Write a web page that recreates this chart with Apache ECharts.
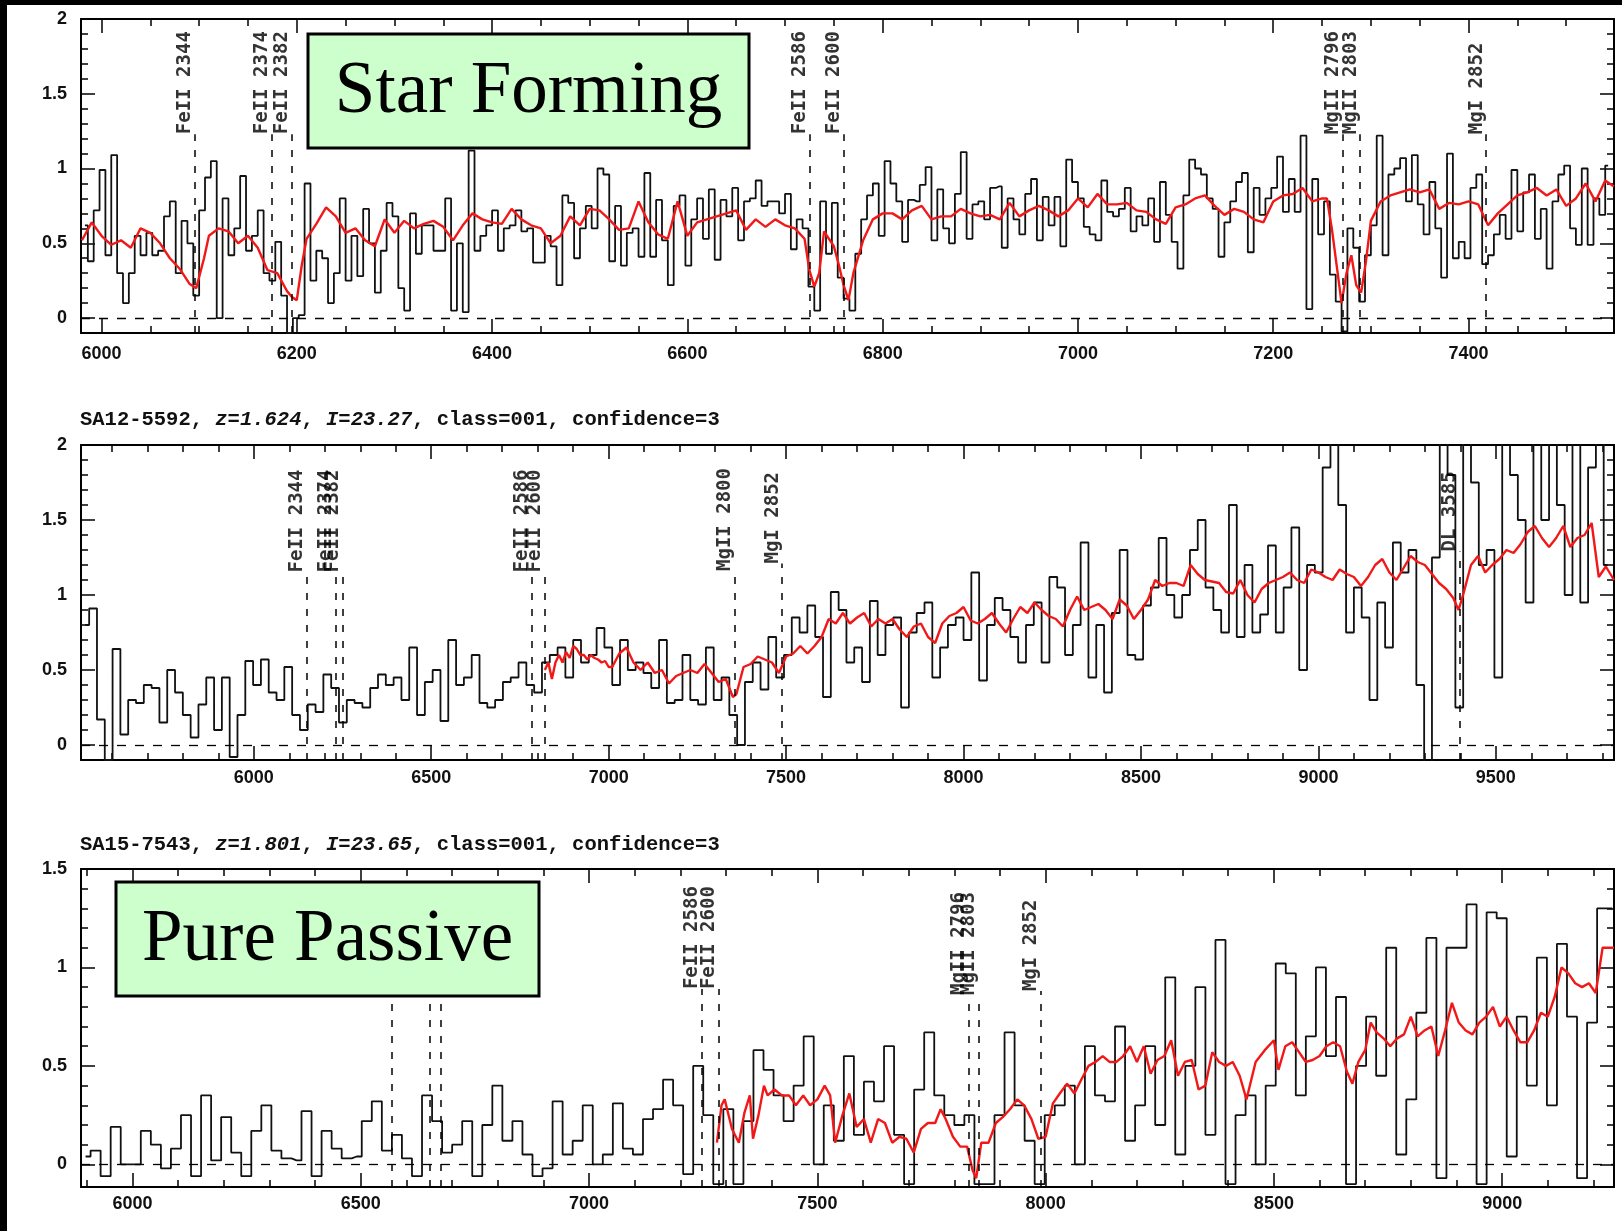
<!DOCTYPE html>
<html><head><meta charset="utf-8">
<script src="https://cdn.jsdelivr.net/npm/echarts@6/dist/echarts.min.js"></script>
<style>html,body{margin:0;padding:0;background:#fff}#c{width:1622px;height:1231px}</style>
</head><body><div id="c"></div>
<script>
// ---------------- DATA ----------------
// Top panel (Star Forming), observed spectrum binned: first bin centre and bin width (Angstrom)
const topBinStart = 5983, topBinWidth = 6;
const topFlux = [
 0.62,0.38,0.72,0.99,0.42,1.09,0.30,0.10,0.30,0.55,0.42,0.57,0.42,0.45,0.68,0.78,0.30,
 0.65,0.50,0.15,0.72,0.94,1.05,0.00,0.80,0.42,0.60,0.95,0.45,0.55,0.72,0.30,0.25,0.51,
 0.15,-0.10,0.00,0.02,0.90,0.25,0.45,0.40,0.10,0.30,0.80,0.25,0.55,0.28,0.73,0.50,0.17,
 0.45,0.77,0.68,0.20,0.05,0.70,0.43,0.62,0.62,0.45,0.45,0.80,0.05,0.50,0.04,1.12,0.45,
 0.55,0.62,0.72,0.45,0.60,0.62,0.72,0.58,0.60,0.37,0.37,0.55,0.48,0.22,0.82,0.77,0.40,
 0.60,0.75,0.60,1.00,0.96,0.38,0.75,0.35,0.57,0.60,0.41,0.97,0.41,0.79,0.52,0.22,0.75,
 0.82,0.35,0.66,0.80,0.53,0.86,0.39,0.79,0.68,0.87,0.52,0.78,0.80,0.92,0.75,0.78,0.78,
 0.70,0.83,0.46,0.66,0.60,0.21,0.05,0.78,0.43,0.77,0.27,0.13,0.05,0.43,0.66,0.82,0.90,
 0.55,1.05,0.90,0.78,0.51,0.79,0.78,0.89,1.01,0.52,0.86,0.60,0.50,0.83,1.11,0.53,0.76,
 0.78,0.66,0.87,0.88,0.47,0.80,0.66,0.56,0.83,0.93,0.52,0.81,0.62,0.81,0.48,1.06,0.91,
 0.80,0.61,0.56,0.52,0.92,0.71,0.68,0.73,0.87,0.58,0.68,0.62,0.80,0.51,0.91,0.69,0.51,
 0.33,0.82,1.06,1.00,0.96,0.80,0.73,0.41,0.64,0.78,0.91,0.97,0.44,0.87,0.69,0.80,0.87,
 1.08,0.71,0.93,0.71,1.22,0.06,0.93,0.56,0.78,0.29,0.11,-0.09,0.60,0.47,0.11,0.42,0.62,
 1.22,0.42,0.96,1.00,1.07,0.78,1.09,0.76,0.56,0.91,0.60,0.27,1.10,0.40,0.51,0.40,0.87,
 0.96,0.36,0.42,0.56,0.69,0.53,0.99,0.58,0.84,0.96,0.53,0.73,0.33,0.78,0.96,1.02,0.60,
 0.49,1.00,0.49,0.80,0.69,1.02
];
// Top panel template (red): [wavelength, flux]
const topModel = [
 [5980,0.52],[5990,0.64],[6000,0.55],[6010,0.49],[6020,0.52],[6030,0.47],[6040,0.60],[6050,0.57],[6060,0.50],[6070,0.40],
 [6080,0.33],[6090,0.23],[6097,0.20],[6105,0.40],[6110,0.55],[6120,0.60],[6130,0.58],[6140,0.50],[6150,0.55],[6160,0.47],
 [6170,0.32],[6180,0.30],[6190,0.18],[6195,0.14],[6200,0.12],[6205,0.35],[6210,0.53],[6220,0.63],[6230,0.74],[6240,0.68],
 [6250,0.57],[6260,0.60],[6270,0.52],[6280,0.48],[6290,0.66],[6300,0.57],[6310,0.65],[6320,0.60],[6330,0.63],[6340,0.65],
 [6350,0.61],[6360,0.52],[6370,0.62],[6380,0.70],[6390,0.66],[6400,0.64],[6410,0.63],[6420,0.73],[6430,0.66],[6440,0.62],
 [6450,0.60],[6460,0.50],[6470,0.55],[6480,0.68],[6490,0.62],[6500,0.73],[6510,0.72],[6520,0.66],[6530,0.59],[6540,0.60],
 [6550,0.78],[6560,0.64],[6570,0.56],[6580,0.53],[6590,0.78],[6600,0.55],[6610,0.64],[6620,0.66],[6630,0.68],[6640,0.70],
 [6650,0.72],[6660,0.59],[6670,0.66],[6680,0.61],[6690,0.66],[6700,0.62],[6710,0.60],[6720,0.53],[6725,0.32],[6730,0.21],
 [6735,0.30],[6740,0.58],[6750,0.48],[6755,0.36],[6760,0.22],[6765,0.12],[6770,0.30],[6780,0.52],[6790,0.66],[6800,0.70],
 [6810,0.70],[6820,0.66],[6830,0.72],[6840,0.75],[6850,0.66],[6860,0.68],[6870,0.68],[6880,0.73],[6890,0.70],[6900,0.68],
 [6910,0.69],[6920,0.66],[6930,0.77],[6940,0.68],[6950,0.72],[6960,0.75],[6970,0.72],[6980,0.68],[6990,0.72],[7000,0.80],
 [7010,0.74],[7020,0.83],[7030,0.76],[7040,0.76],[7050,0.77],[7060,0.72],[7070,0.71],[7080,0.66],[7090,0.63],[7100,0.74],
 [7110,0.76],[7120,0.80],[7130,0.82],[7140,0.75],[7150,0.69],[7160,0.73],[7170,0.71],[7180,0.66],[7190,0.64],[7200,0.78],
 [7210,0.82],[7220,0.83],[7230,0.87],[7240,0.78],[7250,0.80],[7255,0.80],[7260,0.60],[7265,0.35],[7270,0.10],[7275,0.30],
 [7280,0.42],[7285,0.22],[7290,0.17],[7295,0.38],[7300,0.65],[7310,0.78],[7320,0.82],[7330,0.84],[7340,0.86],[7350,0.84],
 [7360,0.86],[7370,0.73],[7380,0.77],[7390,0.76],[7400,0.78],[7410,0.76],[7420,0.62],[7430,0.70],[7440,0.76],[7450,0.82],
 [7460,0.84],[7470,0.87],[7480,0.82],[7490,0.86],[7500,0.75],[7510,0.80],[7520,0.90],[7530,0.78],[7540,0.92],[7549,0.88]
];
const topLines = [
 {name:'FeII 2344', wave:6095},{name:'FeII 2374', wave:6174},{name:'FeII 2382', wave:6195},
 {name:'FeII 2586', wave:6725},{name:'FeII 2600', wave:6760},{name:'MgII 2796', wave:7271},
 {name:'MgII 2803', wave:7289},{name:'MgI 2852', wave:7418}
];
const topLabelBase = [1.23,1.23,1.23,1.23,1.23,1.23,1.23,1.23];

// Middle panel: SA12-5592
const midTitle = {id:'SA12-5592', z:'1.624', I:'23.27', cls:'001', conf:'3'};
const midBinStart = 5525, midBinWidth = 22;
const midFlux = [
 0.80,0.91,0.17,-0.10,0.64,0.07,0.30,0.28,0.40,0.38,
 0.15,0.50,0.35,0.20,0.05,0.27,0.45,0.10,0.45,-0.08,
 0.20,0.56,0.40,0.57,0.35,0.30,0.52,0.20,0.10,0.27,
 0.22,0.47,0.38,0.15,0.30,0.28,0.25,0.38,0.47,0.40,
 0.45,0.30,0.65,0.20,0.42,0.50,0.16,0.70,0.40,0.45,
 0.60,0.28,0.25,0.30,0.42,0.45,0.55,0.40,0.35,0.55,
 0.60,0.65,0.45,0.70,0.55,0.60,0.78,0.65,0.40,0.70,
 0.50,0.55,0.48,0.38,0.70,0.28,0.30,0.60,0.30,0.27,
 0.65,0.30,0.45,0.20,0.00,0.42,0.55,0.37,0.72,0.45,
 0.60,0.85,0.75,0.93,0.72,0.32,1.02,0.90,0.55,0.65,
 0.42,0.96,0.60,0.80,0.85,0.25,0.75,0.88,0.95,0.45,
 0.65,0.80,0.85,0.70,1.15,0.43,0.80,0.98,0.90,0.72,
 0.55,0.80,0.95,0.55,1.12,1.05,0.60,0.80,1.35,0.45,
 0.80,0.35,0.88,1.30,0.60,0.57,0.93,1.05,1.38,1.00,
 0.85,1.00,1.30,1.50,1.05,0.90,0.75,1.60,0.72,1.20,
 0.75,0.87,1.33,0.75,1.05,1.45,0.50,1.20,1.15,1.85,
 2.20,1.60,0.75,1.05,0.85,0.30,0.95,0.65,1.35,1.15,
 1.30,0.40,-0.12,1.25,2.20,1.80,0.25,2.20,1.75,1.20,
 1.30,0.45,2.20,1.80,1.50,0.95,2.20,1.50,2.20,1.60,
 1.00,2.20,0.95,1.85,2.20,1.20
];
const midModel = [
 [6820,0.50],[6830,0.55],[6840,0.44],[6850,0.55],[6860,0.60],[6870,0.55],[6880,0.62],[6890,0.58],[6900,0.66],[6910,0.64],
 [6920,0.60],[6930,0.60],[6940,0.57],[6950,0.60],[6960,0.58],[6970,0.57],[6980,0.55],[6990,0.56],[7000,0.52],[7010,0.52],
 [7030,0.61],[7050,0.65],[7070,0.55],[7090,0.50],[7110,0.55],[7130,0.48],[7150,0.50],[7170,0.41],[7190,0.46],[7210,0.48],
 [7230,0.50],[7250,0.48],[7270,0.54],[7290,0.48],[7310,0.42],[7330,0.44],[7350,0.32],[7360,0.34],[7380,0.52],[7400,0.54],
 [7420,0.59],[7440,0.57],[7460,0.55],[7480,0.48],[7500,0.59],[7520,0.61],[7540,0.66],[7560,0.61],[7580,0.66],[7600,0.72],
 [7620,0.84],[7640,0.81],[7660,0.88],[7680,0.81],[7700,0.85],[7720,0.88],[7740,0.79],[7760,0.84],[7780,0.81],[7800,0.84],
 [7820,0.77],[7840,0.72],[7860,0.79],[7880,0.81],[7900,0.72],[7920,0.68],[7940,0.81],[7960,0.86],[7980,0.88],[8000,0.92],
 [8020,0.83],[8040,0.81],[8060,0.84],[8080,0.88],[8100,0.81],[8120,0.75],[8140,0.84],[8160,0.92],[8180,0.88],[8200,0.95],
 [8220,0.90],[8240,0.86],[8260,0.84],[8280,0.79],[8300,0.90],[8320,0.99],[8340,0.90],[8360,0.92],[8380,0.94],[8400,0.90],
 [8420,0.84],[8440,0.97],[8460,0.93],[8480,0.84],[8500,0.90],[8520,0.97],[8540,1.10],[8560,1.06],[8580,1.08],[8600,1.08],
 [8620,1.06],[8640,1.20],[8660,1.14],[8680,1.10],[8700,1.09],[8720,1.08],[8740,1.02],[8760,1.01],[8780,1.10],[8800,1.00],
 [8820,0.95],[8840,1.04],[8860,1.08],[8880,1.10],[8900,1.12],[8920,1.15],[8940,1.10],[8960,1.08],[8980,1.17],[9000,1.15],
 [9020,1.12],[9040,1.10],[9060,1.17],[9080,1.14],[9100,1.12],[9120,1.06],[9140,1.12],[9160,1.20],[9180,1.24],[9200,1.15],
 [9220,1.10],[9240,1.18],[9260,1.26],[9280,1.22],[9300,1.20],[9320,1.14],[9340,1.08],[9360,1.04],[9380,0.98],[9395,0.90],
 [9410,1.02],[9430,1.20],[9450,1.26],[9470,1.15],[9490,1.20],[9510,1.24],[9530,1.30],[9550,1.28],[9570,1.34],[9590,1.42],
 [9610,1.46],[9630,1.38],[9650,1.32],[9670,1.38],[9690,1.46],[9710,1.32],[9730,1.38],[9750,1.40],[9770,1.48],[9790,1.12],
 [9810,1.19],[9833,1.10]
];
const midLines = [
 {name:'FeII 2344', wave:6149},{name:'FeII 2374', wave:6230},{name:'FeII 2382', wave:6251},
 {name:'FeII 2586', wave:6782},{name:'FeII 2600', wave:6820},{name:'MgII 2800', wave:7356},
 {name:'MgI 2852', wave:7489},{name:'DL 3585', wave:9397}
];
const midLabelBase = [1.15,1.15,1.15,1.15,1.15,1.16,1.21,1.29];

// Bottom panel: SA15-7543
const botTitle = {id:'SA15-7543', z:'1.801', I:'23.65', cls:'001', conf:'3'};
const botBinStart = 5897, botBinWidth = 22;
const botFlux = [
 0.04,0.07,-0.06,0.19,0.00,0.00,0.17,0.10,-0.02,0.08,
 0.25,-0.06,0.35,0.02,0.24,0.06,-0.06,0.17,0.30,0.07,
 0.03,0.02,0.27,-0.06,0.17,0.08,0.03,0.04,0.22,0.32,
 0.07,0.15,0.03,-0.06,0.35,0.22,0.06,0.10,0.22,-0.06,
 0.20,0.40,0.12,0.22,0.05,-0.06,-0.02,0.32,0.05,0.12,
 0.30,0.00,0.05,0.31,0.08,0.05,0.23,0.28,0.43,0.30,
 -0.05,0.50,0.25,-0.10,0.28,-0.10,0.22,0.58,0.48,0.35,
 0.22,0.40,0.65,0.00,0.30,0.12,0.55,0.15,0.42,0.32,
 0.60,0.15,-0.10,0.38,0.67,0.35,0.25,0.20,0.25,-0.10,
 -0.10,0.25,0.67,0.30,0.12,-0.10,0.25,0.30,0.40,0.00,
 0.60,0.35,0.32,0.70,0.12,0.30,0.60,0.20,0.95,0.05,
 0.50,0.90,0.15,1.14,-0.10,0.25,0.35,0.00,0.40,1.02,
 0.97,0.35,0.65,1.00,0.55,0.85,-0.10,0.50,0.75,0.45,
 1.10,0.05,0.33,0.77,1.15,-0.07,1.10,1.10,1.32,-0.10,
 1.28,1.25,0.04,0.75,0.40,1.05,0.30,1.12,0.75,-0.07,
 0.72,1.30,1.30
];
const botModel = [
 [7280,0.11],[7290,0.30],[7297,0.33],[7313,0.18],[7328,0.11],[7340,0.26],[7352,0.35],[7359,0.13],[7371,0.25],[7383,0.40],
 [7391,0.35],[7406,0.38],[7422,0.35],[7438,0.35],[7453,0.30],[7469,0.35],[7484,0.30],[7500,0.33],[7516,0.40],[7528,0.35],
 [7539,0.11],[7555,0.25],[7570,0.36],[7586,0.19],[7602,0.23],[7617,0.11],[7633,0.23],[7648,0.21],[7664,0.11],[7680,0.14],
 [7695,0.13],[7711,0.06],[7727,0.18],[7742,0.21],[7758,0.21],[7770,0.28],[7781,0.23],[7797,0.14],[7813,0.09],[7828,0.09],
 [7840,-0.03],[7848,-0.07],[7859,0.11],[7875,0.11],[7891,0.21],[7906,0.24],[7922,0.28],[7938,0.33],[7953,0.30],[7969,0.23],
 [7984,0.13],[8000,0.14],[8016,0.31],[8031,0.36],[8047,0.41],[8063,0.36],[8078,0.43],[8094,0.50],[8109,0.52],[8125,0.55],
 [8140,0.52],[8155,0.52],[8170,0.55],[8185,0.60],[8200,0.52],[8215,0.60],[8230,0.46],[8245,0.53],[8260,0.55],[8275,0.63],
 [8290,0.45],[8305,0.52],[8320,0.53],[8335,0.38],[8350,0.40],[8365,0.57],[8380,0.52],[8395,0.50],[8410,0.52],[8425,0.45],
 [8440,0.33],[8460,0.52],[8480,0.58],[8500,0.63],[8510,0.48],[8525,0.60],[8540,0.62],[8555,0.57],[8570,0.52],[8585,0.53],
 [8600,0.55],[8615,0.60],[8630,0.62],[8645,0.60],[8660,0.47],[8672,0.41],[8685,0.52],[8700,0.58],[8712,0.72],[8725,0.67],
 [8740,0.64],[8755,0.60],[8770,0.64],[8785,0.66],[8800,0.75],[8815,0.65],[8830,0.68],[8845,0.70],[8860,0.55],[8875,0.68],
 [8890,0.82],[8905,0.72],[8920,0.68],[8935,0.66],[8950,0.72],[8965,0.75],[8980,0.80],[8995,0.70],[9010,0.75],[9025,0.68],
 [9040,0.62],[9055,0.62],[9070,0.68],[9085,0.77],[9100,0.75],[9115,0.85],[9130,1.00],[9145,0.97],[9160,0.92],[9175,0.90],
 [9190,0.92],[9205,0.87],[9220,1.10],[9245,1.10]
];
const botLines = [
 {name:'', wave:6568},{name:'', wave:6652},{name:'', wave:6676},
 {name:'FeII 2586', wave:7246},{name:'FeII 2600', wave:7283},{name:'MgII 2796', wave:7831},
 {name:'MgII 2803', wave:7853},{name:'MgI 2852', wave:7989}
];
const botLabelBase = [1.2,1.2,1.2,0.89,0.89,0.86,0.86,0.88];

// Tick labels
const topXTicks = [6000,6200,6400,6600,6800,7000,7200,7400];
const midXTicks = [6000,6500,7000,7500,8000,8500,9000,9500];
const botXTicks = [6000,6500,7000,7500,8000,8500,9000];
const yTicks2 = [0,0.5,1,1.5,2];
const yTicks15 = [0,0.5,1,1.5];
const boxLabels = ['Star Forming','Pure Passive'];

// ---------------- CHART ----------------
function steps(a,b,s){const r=[];for(let k=0;a+k*s<=b+1e-9;k++)r.push(Math.round((a+k*s)*1000)/1000);return r;}
function bins(start,w,flux){return flux.map((v,i)=>[start+i*w,v]);}

const panels = [
 {grid:{left:81,top:19,width:1533,height:314}, xmin:5979, xmax:7549, ymin:-0.1, ymax:2,
  xMajor:topXTicks, xMinor:steps(6000,7500,50), yMajor:yTicks2, yMinor:steps(0,2,0.1), xMargin:12,
  spec:bins(topBinStart,topBinWidth,topFlux), model:topModel, lines:topLines, base:topLabelBase},
 {grid:{left:81,top:445,width:1533,height:315}, xmin:5513, xmax:9833, ymin:-0.1, ymax:2,
  xMajor:midXTicks, xMinor:steps(5600,9800,100), yMajor:yTicks2, yMinor:steps(0,2,0.1), xMargin:9,
  spec:bins(midBinStart,midBinWidth,midFlux), model:midModel, lines:midLines, base:midLabelBase},
 {grid:{left:81,top:869,width:1533,height:318}, xmin:5887, xmax:9245, ymin:-0.115, ymax:1.5,
  xMajor:botXTicks, xMinor:steps(5900,9200,100), yMajor:yTicks15, yMinor:steps(0,1.5,0.1), xMargin:8,
  spec:bins(botBinStart,botBinWidth,botFlux), model:botModel, lines:botLines, base:botLabelBase}
];

const axisFont = {fontFamily:'"Liberation Sans", Arial, sans-serif', fontWeight:'bold', fontSize:18, color:'#111'};
const tickStyle = {color:'#000', width:1.5};
const frame = {show:true, onZero:false, lineStyle:{color:'#000', width:2}};
const noLine = {show:false, onZero:false};
const grids=[], xAxes=[], yAxes=[], series=[];

panels.forEach((p,gi)=>{
  grids.push(p.grid);
  const cx = {gridIndex:gi, type:'value', min:p.xmin, max:p.xmax, splitLine:{show:false}, axisLabel:{show:false}, axisPointer:{show:false}};
  const cy = {gridIndex:gi, type:'value', min:p.ymin, max:p.ymax, splitLine:{show:false}, axisLabel:{show:false}, axisPointer:{show:false}};
  xAxes.push(
    Object.assign({},cx,{position:'bottom', axisLine:frame, axisTick:{show:true,inside:true,length:14,lineStyle:tickStyle,customValues:p.xMajor},
      axisLabel:Object.assign({show:true, customValues:p.xMajor, margin:p.xMargin, formatter:v=>String(v)}, axisFont)}),
    Object.assign({},cx,{position:'bottom', axisLine:noLine, axisTick:{show:true,inside:true,length:7,lineStyle:tickStyle,customValues:p.xMinor}}),
    Object.assign({},cx,{position:'top', axisLine:frame, axisTick:{show:true,inside:true,length:14,lineStyle:tickStyle,customValues:p.xMajor}}),
    Object.assign({},cx,{position:'top', axisLine:noLine, axisTick:{show:true,inside:true,length:7,lineStyle:tickStyle,customValues:p.xMinor}})
  );
  yAxes.push(
    Object.assign({},cy,{position:'left', axisLine:frame, axisTick:{show:true,inside:true,length:14,lineStyle:tickStyle,customValues:p.yMajor},
      axisLabel:Object.assign({show:true, customValues:p.yMajor, margin:14, formatter:v=>String(v)}, axisFont)}),
    Object.assign({},cy,{position:'left', axisLine:noLine, axisTick:{show:true,inside:true,length:7,lineStyle:tickStyle,customValues:p.yMinor}}),
    Object.assign({},cy,{position:'right', axisLine:frame, axisTick:{show:true,inside:true,length:14,lineStyle:tickStyle,customValues:p.yMajor}}),
    Object.assign({},cy,{position:'right', axisLine:noLine, axisTick:{show:true,inside:true,length:7,lineStyle:tickStyle,customValues:p.yMinor}})
  );
  const xi = gi*4, yi = gi*4;
  const ml = [{yAxis:0, lineStyle:{type:[9,9], width:1.3, color:'#000'}}];
  p.lines.forEach((l,k)=>{ ml.push([{coord:[l.wave,p.ymin], lineStyle:{type:[7,9], width:1.5, color:'#000'}},{coord:[l.wave,p.base[k]]}]); });
  series.push({
    type:'line', xAxisIndex:xi, yAxisIndex:yi, step:'middle', data:p.spec, symbol:'none', silent:true,
    lineStyle:{color:'#111', width:1.8}, z:2, clip:true,
    markLine:{silent:true, symbol:['none','none'], label:{show:false}, animation:false, data:ml}
  });
  series.push({
    type:'line', xAxisIndex:xi, yAxisIndex:yi, data:p.model, symbol:'none', silent:true,
    lineStyle:{color:'#f21818', width:2.4}, z:3, clip:true
  });
  series.push({
    type:'scatter', xAxisIndex:xi, yAxisIndex:yi, symbolSize:0, silent:true, clip:false, z:4,
    data:p.lines.map((l,k)=>[l.wave, p.base[k], l.name]),
    label:{show:true, formatter:q=>q.data[2], rotate:90, position:[0,0], align:'left', verticalAlign:'bottom',
      fontFamily:'"DejaVu Sans Mono", monospace', fontWeight:'bold', fontSize:19, color:'#000'}
  });
});

function titleRich(t){
  return '{n|'+t.id+', }{i|z}{n|=}{i|'+t.z+'}{n|, }{i|I}{n|=}{i|'+t.I+'}{n|, class='+t.cls+', confidence='+t.conf+'}';
}
const titleStyle = {rich:{
  n:{fontFamily:'"Liberation Mono", monospace', fontWeight:'bold', fontSize:20.5, color:'#111'},
  i:{fontFamily:'"Liberation Mono", monospace', fontWeight:'bold', fontStyle:'italic', fontSize:20.5, color:'#111'}}};

function box(x,y,w,h,label){
  return {type:'group', x:x, y:y, z:100, children:[
    {type:'rect', shape:{x:0,y:0,width:w,height:h}, style:{fill:'#ccffcc', stroke:'#000', lineWidth:3}, z:100},
    {type:'text', x:w/2, y:h/2+2, z:101, style:{text:label, fill:'#000', font:'73px "Liberation Serif", "Times New Roman", serif',
      align:'center', verticalAlign:'middle', textAlign:'center', textVerticalAlign:'middle'}}
  ]};
}

const chart = echarts.init(document.getElementById('c'), null, {renderer:'canvas'});
chart.setOption({
  animation:false,
  backgroundColor:'#fff',
  grid:grids, xAxis:xAxes, yAxis:yAxes, series:series,
  title:[
    {text:titleRich(midTitle), left:80, top:409, padding:0, textStyle:titleStyle},
    {text:titleRich(botTitle), left:80, top:834, padding:0, textStyle:titleStyle}
  ],
  graphic:[
    {type:'rect', x:0, y:0, z:200, shape:{width:1622,height:5}, style:{fill:'#000'}},
    {type:'rect', x:0, y:0, z:200, shape:{width:7,height:1231}, style:{fill:'#000'}},
    box(308,34,441,114,boxLabels[0]),
    box(116,882,423,114,boxLabels[1])
  ]
});
</script></body></html>
